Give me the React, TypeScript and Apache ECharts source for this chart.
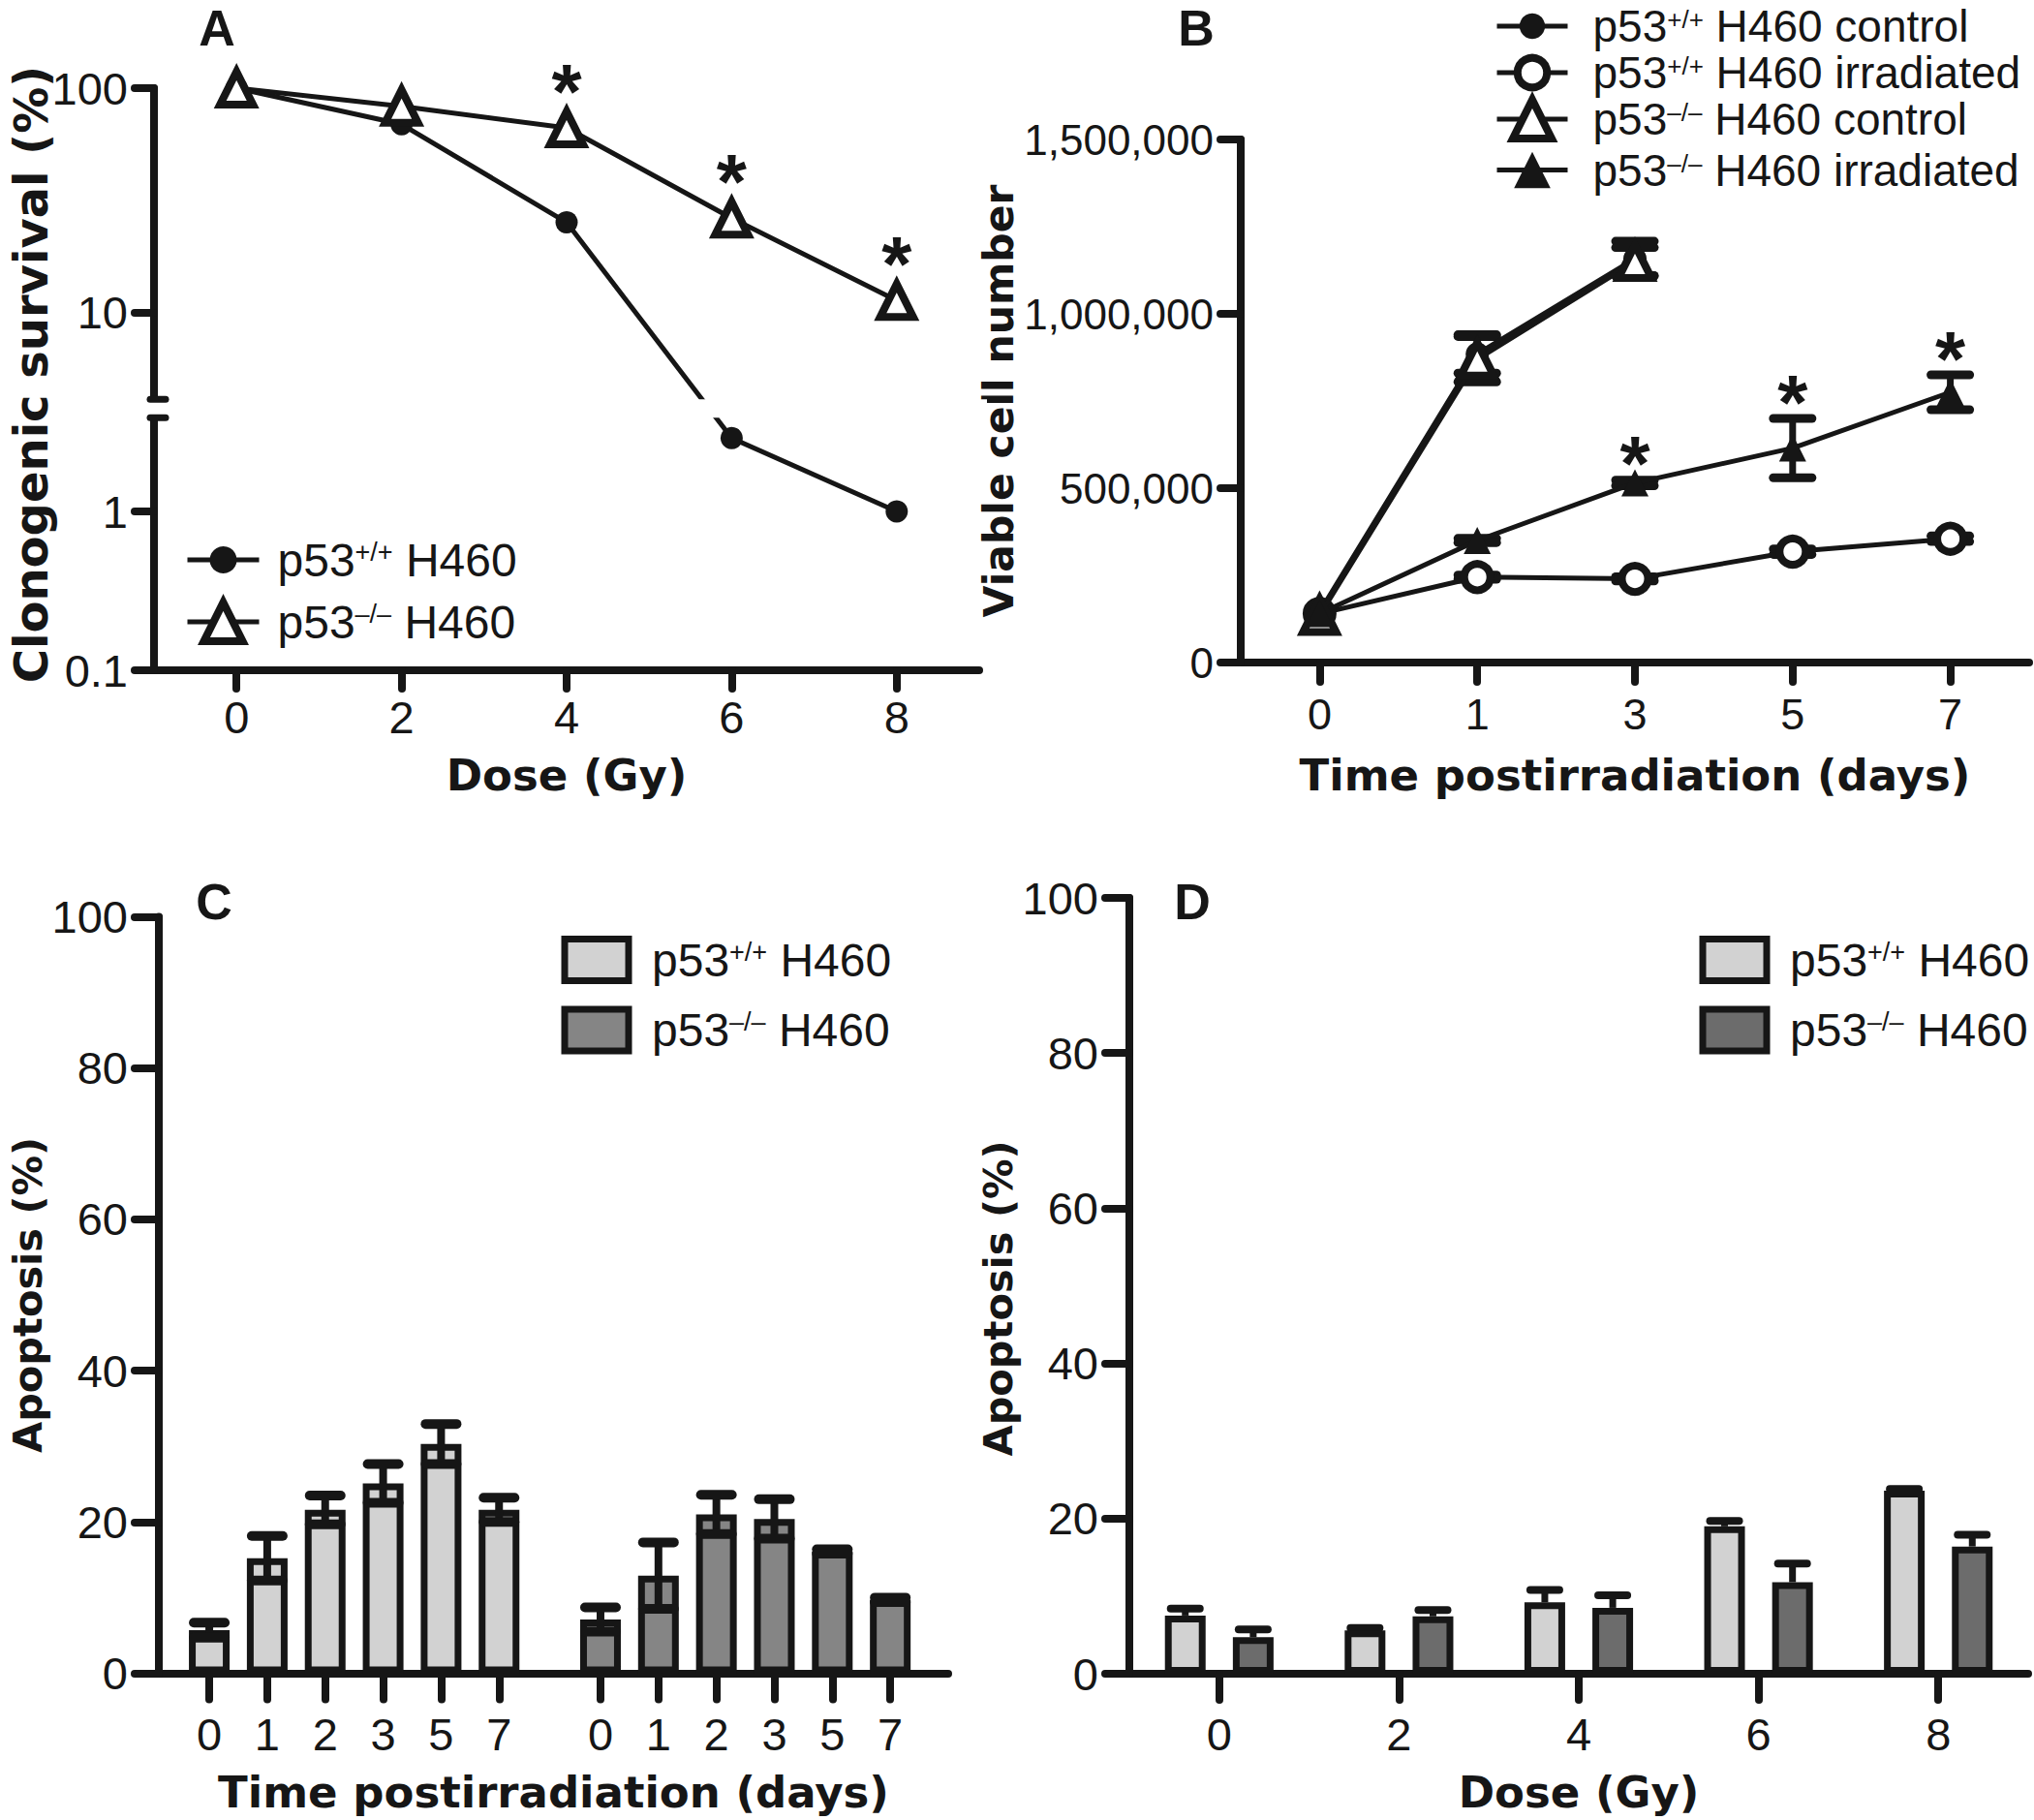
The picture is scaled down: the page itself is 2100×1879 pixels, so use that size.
import React, { useEffect, useRef } from "react";
import * as echarts from "echarts";

// ---------------- colours & fonts ----------------
const BLACK = "#161616";
const LIGHT = "#d2d2d2";
const DARK_C = "#858585";
const DARK_D = "#6c6c6c";
const SANS = '"Liberation Sans", Arial, sans-serif';
const BOLD_TITLE = '"DejaVu Sans", "Liberation Sans", sans-serif';

// ---------------- Panel A : clonogenic survival ----------------
const doseA = [0, 2, 4, 6, 8];
const survivalWT = [100, 69, 25.2, 2.9, 1.0];
const survivalKO = [100, 83, 66.5, 26.3, 11.3];
const starDosesA = [4, 6, 8];
const yTickValuesA = [0.1, 1, 10, 100];

// segmented log axis (break between BREAK_LOW and BREAK_HIGH)
const BREAK_LOW = 3.9;
const BREAK_HIGH = 4.1;
const UPPER_STRETCH = 1.412;
const BREAK_GAP = 0.116;
function tA(v: number): number {
  const lowerTop = Math.log10(BREAK_LOW) + 1;
  if (v <= (BREAK_LOW + BREAK_HIGH) / 2) return Math.log10(v) + 1;
  return lowerTop + BREAK_GAP + (Math.log10(v) - Math.log10(BREAK_HIGH)) * UPPER_STRETCH;
}

// ---------------- Panel B : viable cell number ----------------
const daysB = ["0", "1", "3", "5", "7"];
const wtControl = [145000, 885000, 1158000, null, null];
const wtControlErr = [0, 55000, 50000, 0, 0];
const wtIrradiated = [140000, 245000, 240000, 318000, 355000];
const wtIrradiatedErr = [0, 6000, 6000, 8000, 8000];
const koControl = [135000, 870000, 1150000, null, null];
const koControlErr = [0, 65000, 40000, 0, 0];
const koIrradiated = [140000, 350000, 515000, 615000, 775000];
const koIrradiatedErr = [0, 6000, 8000, 85000, 50000];
const starDaysB = [2, 3, 4];

// ---------------- Panel C : apoptosis vs time ----------------
const daysC = ["0", "1", "2", "3", "5", "7"];
const apoTimeWT = [5.7, 15.2, 21.6, 25.1, 30.3, 21.6];
const apoTimeWTErr = [1.0, 2.95, 1.9, 2.55, 2.65, 1.6];
const apoTimeKO = [7.1, 12.9, 21.0, 20.4, 16.1, 9.7];
const apoTimeKOErr = [1.6, 4.4, 2.6, 2.6, 0.3, 0.3];
const GROUP2_START = 6.75;

// ---------------- Panel D : apoptosis vs dose ----------------
const dosesD = ["0", "2", "4", "6", "8"];
const apoDoseWT = [7.5, 5.6, 9.2, 19.0, 23.6];
const apoDoseWTErr = [0.9, 0.3, 1.6, 0.7, 0.2];
const apoDoseKO = [4.7, 7.4, 8.5, 11.8, 16.4];
const apoDoseKOErr = [1.0, 0.8, 1.6, 2.4, 1.5];

// ---------------- legend texts ----------------
const LEGEND_TEXT: Record<string, [string, string]> = {
  "A p53+/+ H460": ["+/+", " H460"],
  "A p53-/- H460": ["\u2013/\u2013", " H460"],
  "B p53+/+ H460 control": ["+/+", " H460 control"],
  "B p53+/+ H460 irradiated": ["+/+", " H460 irradiated"],
  "B p53-/- H460 control": ["\u2013/\u2013", " H460 control"],
  "B p53-/- H460 irradiated": ["\u2013/\u2013", " H460 irradiated"],
  "C p53+/+ H460": ["+/+", " H460"],
  "C p53-/- H460": ["\u2013/\u2013", " H460"],
  "D p53+/+ H460": ["+/+", " H460"],
  "D p53-/- H460": ["\u2013/\u2013", " H460"],
};

function legendOne(
  name: string,
  left: number,
  top: number,
  itemWidth: number,
  itemHeight: number,
  fontSize: number,
  lineHeight: number,
  gap: number,
  extra: any
) {
  return {
    data: [name],
    left,
    top,
    orient: "vertical",
    padding: 0,
    itemWidth,
    itemHeight,
    selectedMode: false,
    formatter: (n: string) => {
      const [sup, rest] = LEGEND_TEXT[n];
      return `{g|}{t|p53}{s|${sup}}{t|${rest}}`;
    },
    textStyle: {
      color: BLACK,
      rich: {
        g: { width: gap, lineHeight },
        t: { fontSize, lineHeight, fontFamily: SANS, color: BLACK },
        s: {
          fontSize: Math.round(fontSize * 0.56),
          lineHeight: Math.round(fontSize * 0.6),
          fontFamily: SANS,
          color: BLACK,
          verticalAlign: "top",
        },
      },
    },
    ...extra,
  };
}

function errorBars(
  xAxisIndex: number,
  yAxisIndex: number,
  means: (number | null)[],
  errs: number[],
  xs: number[],
  o: { capWidth: number; stem: number; capLine: number; lower: boolean; offset: number; z: number }
) {
  const data: number[][] = [];
  means.forEach((m, i) => {
    if (m != null && errs[i] > 0) data.push([xs[i], m, errs[i]]);
  });
  return {
    type: "custom",
    xAxisIndex,
    yAxisIndex,
    z: o.z,
    silent: true,
    data,
    renderItem: (_p: any, api: any) => {
      const x = api.value(0);
      const m = api.value(1);
      const e = api.value(2);
      const top = api.coord([x, m + e]);
      const bot = api.coord([x, o.lower ? m - e : m]);
      const cx = top[0] + o.offset;
      const children: any[] = [
        {
          type: "line",
          shape: { x1: cx, y1: top[1], x2: cx, y2: bot[1] },
          style: { stroke: BLACK, lineWidth: o.stem },
        },
        {
          type: "line",
          shape: { x1: cx - o.capWidth / 2, y1: top[1], x2: cx + o.capWidth / 2, y2: top[1] },
          style: { stroke: BLACK, lineWidth: o.capLine, lineCap: "round" },
        },
      ];
      if (o.lower) {
        children.push({
          type: "line",
          shape: { x1: cx - o.capWidth / 2, y1: bot[1], x2: cx + o.capWidth / 2, y2: bot[1] },
          style: { stroke: BLACK, lineWidth: o.capLine, lineCap: "round" },
        });
      }
      return { type: "group", children };
    },
  };
}

const STAR_FONT = 80;
const STAR_SHIFT = 10; // glyph centre sits above the text anchor
function stars(xAxisIndex: number, yAxisIndex: number, data: number[][], offsetPx: number) {
  return {
    type: "custom",
    xAxisIndex,
    yAxisIndex,
    z: 5,
    silent: true,
    data,
    renderItem: (_p: any, api: any) => {
      const c = api.coord([api.value(0), api.value(1)]);
      return {
        type: "text",
        x: c[0],
        y: c[1] - offsetPx + STAR_SHIFT,
        style: {
          text: "*",
          fill: BLACK,
          font: `bold ${STAR_FONT}px ${SANS}`,
          lineHeight: 40,
          align: "center",
          verticalAlign: "middle",
          textAlign: "center",
          textVerticalAlign: "middle",
        },
      };
    },
  };
}

const axisLineStyle = { color: BLACK, width: 8, cap: "round" };
const tickFont = (size: number) => ({ color: BLACK, fontFamily: SANS, fontSize: size });
const titleFont = (size: number, padding?: number[]) => ({
  color: BLACK,
  fontFamily: BOLD_TITLE,
  fontWeight: "bold",
  fontSize: size,
  ...(padding ? { padding } : {}),
});
const tickStyle = (length: number, extra: any = {}) => ({
  show: true,
  length,
  lineStyle: { color: BLACK, width: 8, cap: "round" },
  ...extra,
});
const axisLine = { show: true, onZero: false, lineStyle: axisLineStyle };

function buildOption(): any {
  const tickTsA = yTickValuesA.map(tA);
  const cPosWT = daysC.map((_, i) => i);
  const cPosKO = daysC.map((_, i) => i + GROUP2_START);
  const cPosAll = [...cPosWT, ...cPosKO];
  const BAR_W_D = 42;
  const BAR_GAP_D = 0.67;
  const offD = (BAR_W_D * (1 + BAR_GAP_D)) / 2;

  const lineBase = {
    type: "line",
    lineStyle: { color: BLACK, width: 5 },
    emphasis: { disabled: true },
    silent: true,
  };

  return {
    animation: false,
    backgroundColor: "#ffffff",
    textStyle: { fontFamily: SANS },
    grid: [
      { left: 159, top: 91, width: 852, height: 601, outerBoundsMode: "none", containLabel: false },
      { left: 1281, top: 144, width: 814, height: 540, outerBoundsMode: "none", containLabel: false },
      { left: 164, top: 946.5, width: 815, height: 781, outerBoundsMode: "none", containLabel: false },
      { left: 1166, top: 927, width: 928, height: 801, outerBoundsMode: "none", containLabel: false },
    ],
    xAxis: [
      {
        gridIndex: 0,
        type: "value",
        min: -1,
        max: 9,
        name: "Dose (Gy)",
        nameLocation: "middle",
        nameGap: 86,
        nameTextStyle: titleFont(45),
        splitLine: { show: false },
        axisLine,
        axisTick: tickStyle(19, { customValues: doseA }),
        axisLabel: { customValues: doseA, margin: 25, ...tickFont(47) },
      },
      {
        gridIndex: 1,
        type: "category",
        data: daysB,
        boundaryGap: true,
        name: "Time postirradiation (days)",
        nameLocation: "middle",
        nameGap: 94,
        nameTextStyle: titleFont(45),
        axisLine,
        axisTick: tickStyle(20, { alignWithLabel: true }),
        axisLabel: { margin: 31, ...tickFont(45) },
      },
      {
        gridIndex: 2,
        type: "value",
        min: -0.87,
        max: 12.75,
        name: "Time postirradiation (days)",
        nameLocation: "middle",
        nameGap: 100,
        nameTextStyle: titleFont(45),
        splitLine: { show: false },
        axisLine,
        axisTick: tickStyle(27, { customValues: cPosAll }),
        axisLabel: {
          customValues: cPosAll,
          margin: 39,
          ...tickFont(47),
          formatter: (v: number) => {
            let i = cPosWT.findIndex((p) => Math.abs(p - v) < 1e-6);
            if (i < 0) i = cPosKO.findIndex((p) => Math.abs(p - v) < 1e-6);
            return i >= 0 ? daysC[i] : "";
          },
        },
      },
      {
        gridIndex: 3,
        type: "category",
        data: dosesD,
        boundaryGap: true,
        name: "Dose (Gy)",
        nameLocation: "middle",
        nameGap: 100,
        nameTextStyle: titleFont(45),
        axisLine,
        axisTick: tickStyle(27, { alignWithLabel: true }),
        axisLabel: { margin: 39, ...tickFont(47) },
      },
    ],
    yAxis: [
      {
        gridIndex: 0,
        type: "value",
        min: 0,
        max: tA(100),
        name: "Clonogenic survival (%)",
        nameLocation: "middle",
        nameGap: 103,
        nameMoveOverlap: false,
        nameRotate: 90,
        nameTextStyle: titleFont(48, [0, 0, 0, 10]),
        splitLine: { show: false },
        axisLine,
        axisTick: tickStyle(20, { customValues: tickTsA }),
        axisLabel: {
          customValues: tickTsA,
          margin: 27,
          ...tickFont(47),
          formatter: (v: number) => {
            const i = tickTsA.findIndex((t) => Math.abs(t - v) < 1e-6);
            return i >= 0 ? String(yTickValuesA[i]) : "";
          },
        },
      },
      {
        gridIndex: 1,
        type: "value",
        min: 0,
        max: 1500000,
        interval: 500000,
        name: "Viable cell number",
        nameLocation: "middle",
        nameGap: 214,
        nameRotate: 90,
        nameTextStyle: titleFont(42.5),
        splitLine: { show: false },
        axisLine,
        axisTick: tickStyle(21),
        axisLabel: { margin: 28, ...tickFont(44), formatter: (v: number) => v.toLocaleString("en-US") },
      },
      {
        gridIndex: 2,
        type: "value",
        min: 0,
        max: 100,
        interval: 20,
        name: "Apoptosis (%)",
        nameLocation: "middle",
        nameGap: 106,
        nameRotate: 90,
        nameTextStyle: titleFont(41.5),
        splitLine: { show: false },
        axisLine,
        axisTick: tickStyle(25),
        axisLabel: { margin: 32, ...tickFont(47) },
      },
      {
        gridIndex: 3,
        type: "value",
        min: 0,
        max: 100,
        interval: 20,
        name: "Apoptosis (%)",
        nameLocation: "middle",
        nameGap: 102,
        nameRotate: 90,
        nameTextStyle: titleFont(41.5, [0, 26, 0, 0]),
        splitLine: { show: false },
        axisLine,
        axisTick: tickStyle(25),
        axisLabel: { margin: 32, ...tickFont(47) },
      },
    ],
    legend: [
      legendOne("A p53+/+ H460", 191, 554, 74, 35, 48, 44, 14, {
        lineStyle: { width: 5, color: BLACK },
        itemStyle: { borderWidth: 0 },
      }),
      legendOne("A p53-/- H460", 191, 618, 74, 50, 48, 44, 14, {
        lineStyle: { width: 5, color: BLACK },
        itemStyle: { borderWidth: 8, borderColor: BLACK },
      }),
      legendOne("B p53+/+ H460 control", 1543, 4, 73, 33, 46, 40, 21, {
        lineStyle: { width: 5, color: BLACK },
        itemStyle: { borderWidth: 0 },
      }),
      legendOne("B p53+/+ H460 irradiated", 1543, 52, 73, 38, 46, 40, 21, {
        lineStyle: { width: 5, color: BLACK },
        itemStyle: { borderWidth: 8, borderColor: BLACK },
      }),
      legendOne("B p53-/- H460 control", 1543, 99, 73, 50, 46, 40, 21, {
        lineStyle: { width: 5, color: BLACK },
        itemStyle: { borderWidth: 8, borderColor: BLACK },
      }),
      legendOne("B p53-/- H460 irradiated", 1543, 152.5, 73, 47, 46, 40, 21, {
        lineStyle: { width: 5, color: BLACK },
        itemStyle: { borderWidth: 0 },
      }),
      legendOne("C p53+/+ H460", 579.5, 966, 66, 43, 48, 44, 19, {
        icon: "rect",
        itemStyle: { borderWidth: 7, borderColor: BLACK },
      }),
      legendOne("C p53-/- H460", 579.5, 1038.5, 66, 43, 48, 44, 19, {
        icon: "rect",
        itemStyle: { borderWidth: 7, borderColor: BLACK },
      }),
      legendOne("D p53+/+ H460", 1754.5, 966, 66, 43, 48, 44, 19, {
        icon: "rect",
        itemStyle: { borderWidth: 7, borderColor: BLACK },
      }),
      legendOne("D p53-/- H460", 1754.5, 1038.5, 66, 43, 48, 44, 19, {
        icon: "rect",
        itemStyle: { borderWidth: 7, borderColor: BLACK },
      }),
    ],
    series: [
      // ----- A -----
      {
        ...lineBase,
        name: "A p53+/+ H460",
        xAxisIndex: 0,
        yAxisIndex: 0,
        data: doseA.map((d, i) => [d, tA(survivalWT[i])]),
        symbol: "circle",
        symbolSize: 23,
        itemStyle: { color: BLACK },
        z: 2,
      },
      {
        ...lineBase,
        name: "A p53-/- H460",
        xAxisIndex: 0,
        yAxisIndex: 0,
        data: doseA.map((d, i) => [d, tA(survivalKO[i])]),
        symbol: "triangle",
        symbolSize: 34,
        itemStyle: { color: "#ffffff", borderColor: BLACK, borderWidth: 8 },
        z: 3,
      },
      stars(
        0,
        0,
        starDosesA.map((d) => [d, tA(survivalKO[doseA.indexOf(d)])]),
        48
      ),
      // ----- B -----
      errorBars(1, 1, wtControl, wtControlErr, [0, 1, 2, 3, 4], { capWidth: 40, stem: 7, capLine: 9, lower: true, offset: 0, z: 1 }),
      errorBars(1, 1, wtIrradiated, wtIrradiatedErr, [0, 1, 2, 3, 4], { capWidth: 40, stem: 7, capLine: 9, lower: true, offset: 0, z: 1 }),
      errorBars(1, 1, koControl, koControlErr, [0, 1, 2, 3, 4], { capWidth: 40, stem: 7, capLine: 9, lower: true, offset: 0, z: 1 }),
      errorBars(1, 1, koIrradiated, koIrradiatedErr, [0, 1, 2, 3, 4], { capWidth: 40, stem: 7, capLine: 9, lower: true, offset: 0, z: 1 }),
      {
        ...lineBase,
        name: "B p53+/+ H460 control",
        xAxisIndex: 1,
        yAxisIndex: 1,
        data: wtControl,
        symbol: "circle",
        symbolSize: 24,
        itemStyle: { color: BLACK },
        z: 2,
      },
      {
        ...lineBase,
        name: "B p53+/+ H460 irradiated",
        xAxisIndex: 1,
        yAxisIndex: 1,
        data: wtIrradiated,
        symbol: "circle",
        symbolSize: 27,
        itemStyle: { color: "#ffffff", borderColor: BLACK, borderWidth: 8 },
        z: 2,
      },
      {
        ...lineBase,
        name: "B p53-/- H460 control",
        xAxisIndex: 1,
        yAxisIndex: 1,
        data: koControl,
        symbol: "triangle",
        symbolSize: 34,
        itemStyle: { color: "#ffffff", borderColor: BLACK, borderWidth: 8 },
        z: 3,
      },
      {
        ...lineBase,
        name: "B p53-/- H460 irradiated",
        xAxisIndex: 1,
        yAxisIndex: 1,
        data: koIrradiated,
        symbol: "triangle",
        symbolSize: 28,
        itemStyle: { color: BLACK },
        z: 3,
      },
      stars(
        1,
        1,
        starDaysB.map((i) => [i, koIrradiated[i] + koIrradiatedErr[i]]),
        27
      ),
      // ----- C -----
      {
        type: "bar",
        name: "C p53+/+ H460",
        xAxisIndex: 2,
        yAxisIndex: 2,
        barWidth: 42,
        barGap: "-100%",
        data: apoTimeWT.map((v, i) => [cPosWT[i], v]),
        itemStyle: { color: LIGHT, borderColor: BLACK, borderWidth: 7 },
        silent: true,
        z: 2,
      },
      {
        type: "bar",
        name: "C p53-/- H460",
        xAxisIndex: 2,
        yAxisIndex: 2,
        barWidth: 42,
        barGap: "-100%",
        data: apoTimeKO.map((v, i) => [cPosKO[i], v]),
        itemStyle: { color: DARK_C, borderColor: BLACK, borderWidth: 7 },
        silent: true,
        z: 2,
      },
      errorBars(2, 2, apoTimeWT, apoTimeWTErr, cPosWT, { capWidth: 32, stem: 8, capLine: 10, lower: true, offset: 0, z: 4 }),
      errorBars(2, 2, apoTimeKO, apoTimeKOErr, cPosKO, { capWidth: 32, stem: 8, capLine: 10, lower: true, offset: 0, z: 4 }),
      // ----- D -----
      {
        type: "bar",
        name: "D p53+/+ H460",
        xAxisIndex: 3,
        yAxisIndex: 3,
        barWidth: BAR_W_D,
        barGap: `${BAR_GAP_D * 100}%`,
        data: apoDoseWT,
        itemStyle: { color: LIGHT, borderColor: BLACK, borderWidth: 7 },
        silent: true,
        z: 2,
      },
      {
        type: "bar",
        name: "D p53-/- H460",
        xAxisIndex: 3,
        yAxisIndex: 3,
        barWidth: BAR_W_D,
        barGap: `${BAR_GAP_D * 100}%`,
        data: apoDoseKO,
        itemStyle: { color: DARK_D, borderColor: BLACK, borderWidth: 7 },
        silent: true,
        z: 2,
      },
      errorBars(3, 3, apoDoseWT, apoDoseWTErr, [0, 1, 2, 3, 4], { capWidth: 30, stem: 7, capLine: 8, lower: false, offset: -offD, z: 1 }),
      errorBars(3, 3, apoDoseKO, apoDoseKOErr, [0, 1, 2, 3, 4], { capWidth: 30, stem: 7, capLine: 8, lower: false, offset: offD, z: 1 }),
    ],
  };
}

export default function App() {
  const ref = useRef<HTMLDivElement>(null);
  useEffect(() => {
    document.body.style.margin = "0";
    const chart = echarts.init(ref.current as HTMLDivElement, null, { renderer: "svg" });
    chart.setOption(buildOption());

    // axis break for panel A, placed through the chart's own scale
    const pLo = chart.convertToPixel({ xAxisIndex: 0, yAxisIndex: 0 }, [-1, tA(BREAK_LOW)]) as number[];
    const pHi = chart.convertToPixel({ xAxisIndex: 0, yAxisIndex: 0 }, [9, tA(BREAK_HIGH)]) as number[];
    const axisX = pLo[0];
    const letter = (t: string, x: number, y: number) => ({
      type: "text",
      x,
      y,
      z: 50,
      style: {
        text: t,
        font: `bold 52px ${SANS}`,
        lineHeight: 44,
        fill: BLACK,
        align: "center",
        verticalAlign: "middle",
        textAlign: "center",
        textVerticalAlign: "middle",
      },
    });
    chart.setOption({
      graphic: [
        {
          type: "rect",
          z: 100,
          shape: { x: axisX - 12, y: pHi[1], width: pHi[0] - axisX + 20, height: pLo[1] - pHi[1] },
          style: { fill: "#ffffff" },
        },
        {
          type: "line",
          z: 101,
          shape: { x1: axisX - 4, y1: pHi[1], x2: axisX + 12, y2: pHi[1] },
          style: { stroke: BLACK, lineWidth: 7, lineCap: "round" },
        },
        {
          type: "line",
          z: 101,
          shape: { x1: axisX - 4, y1: pLo[1], x2: axisX + 12, y2: pLo[1] },
          style: { stroke: BLACK, lineWidth: 7, lineCap: "round" },
        },
        letter("A", 224, 29),
        letter("B", 1235, 29),
        letter("C", 221, 931),
        letter("D", 1231, 931),
      ],
    });
    return () => chart.dispose();
  }, []);
  return <div ref={ref} style={{ width: 2100, height: 1879 }} />;
}
